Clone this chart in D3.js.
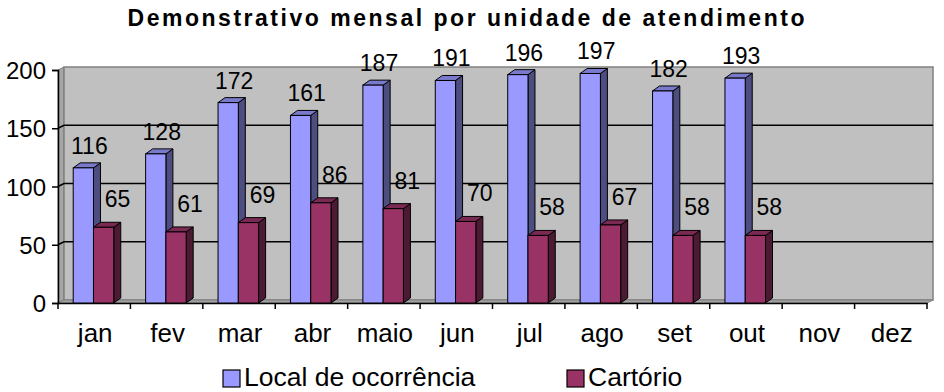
<!DOCTYPE html>
<html><head><meta charset="utf-8">
<script src="https://cdn.jsdelivr.net/npm/d3@7/dist/d3.min.js"></script>
<style>body{margin:0;background:#fff}svg{display:block;font-family:"Liberation Sans",Arial,sans-serif}</style>
</head><body><svg id="c" width="944" height="392"></svg>
<script>
const months = ["jan","fev","mar","abr","maio","jun","jul","ago","set","out","nov","dez"];
const localOcorrencia = [116,128,172,161,187,191,196,197,182,193,null,null];
const cartorio = [65,61,69,86,81,70,58,67,58,58,null,null];
const yTicks = [0,50,100,150,200];
const seriesNames = ["Local de ocorrência","Cartório"];

const svg = d3.select("#c");
const x0 = d3.scaleBand().domain(months).range([58,927]);
const y = d3.scaleLinear().domain([0,200]).range([303,70]);
const wdx=6, wdy=3; // wall depth
const bdx=7, bdy=5; // bar depth
const colors = [{front:"#9999FF",top:"#7A7ACC",side:"#4D4D80"},{front:"#993366",top:"#7A2952",side:"#4D1A33"}];
const FF = "'Liberation Sans', Arial, sans-serif";

// title
svg.append("text").attr("x",466).attr("y",26).attr("text-anchor","middle")
  .attr("font-size",23).attr("font-weight","bold").attr("font-family",FF)
  .attr("textLength",677).attr("lengthAdjust","spacing")
  .text("Demonstrativo mensal por unidade de atendimento");

const xL=x0.range()[0], xR=x0.range()[1];
// side wall
svg.append("path").attr("d",`M${xL},${y(200)}L${xL+wdx},${y(200)-wdy}L${xL+wdx},${y(0)-wdy}L${xL},${y(0)}Z`)
  .attr("fill","#A6A6A6").attr("stroke","#808080");
// back wall
svg.append("rect").attr("x",xL+wdx).attr("y",y(200)-wdy).attr("width",xR-xL).attr("height",y(0)-y(200))
  .attr("fill","#C0C0C0").attr("stroke","#808080").attr("stroke-width",1.5);
// floor
svg.append("path").attr("d",`M${xL},${y(0)}L${xL+wdx},${y(0)-wdy}L${xR+wdx},${y(0)-wdy}L${xR},${y(0)}Z`)
  .attr("fill","#A0A0A0").attr("stroke","#808080");
// gridlines
yTicks.filter(t=>t>0&&t<200).forEach(t=>{
  svg.append("path").attr("d",`M${xL},${y(t)}L${xL+wdx},${y(t)-wdy}L${xR+wdx},${y(t)-wdy}`)
    .attr("fill","none").attr("stroke","#000").attr("stroke-width",1.5);
});

// y axis
const yAxis = svg.append("g").attr("transform",`translate(${xL},0)`)
  .call(d3.axisLeft(y).tickValues(yTicks).tickSize(6).tickPadding(6));
yAxis.select(".domain").attr("stroke","#000").attr("stroke-width",1.5);
yAxis.selectAll(".tick line").attr("stroke","#000").attr("stroke-width",1.5);
yAxis.selectAll("text").attr("font-size",24).attr("font-family",FF).attr("fill","#000").attr("dy","0.36em");

// x axis
const xAxis = svg.append("g").attr("transform",`translate(0,${y(0)})`)
  .call(d3.axisBottom(x0).tickSize(0).tickPadding(0));
xAxis.select(".domain").attr("stroke","#000").attr("stroke-width",1.5);
xAxis.selectAll("text").attr("font-size",26).attr("font-family",FF).attr("fill","#000").attr("y",21).attr("dy","0.71em").attr("dx",1);
// boundary ticks
const bounds = months.map(m=>x0(m)).concat([xR]);
svg.append("g").selectAll("line").data(bounds).join("line")
  .attr("x1",d=>d).attr("x2",d=>d).attr("y1",y(0)).attr("y2",y(0)+6)
  .attr("stroke","#000").attr("stroke-width",1.5);

// bars
const bw = x0.bandwidth()*0.28, off = x0.bandwidth()*0.21;
const data = months.map((m,i)=>({m,vals:[localOcorrencia[i],cartorio[i]]}));
const g = svg.append("g");
data.forEach(d=>{
  d.vals.forEach((v,s)=>{
    if(v==null) return;
    const x = x0(d.m)+off+s*bw, yt=y(v), yb=y(0), c=colors[s];
    g.append("path").attr("d",`M${x+bw},${yt}L${x+bw+bdx},${yt-bdy}L${x+bw+bdx},${yb-bdy}L${x+bw},${yb}Z`)
      .attr("fill",c.side).attr("stroke","#000").attr("stroke-width",1).attr("stroke-linejoin","round");
    g.append("path").attr("d",`M${x},${yt}L${x+bdx},${yt-bdy}L${x+bw+bdx},${yt-bdy}L${x+bw},${yt}Z`)
      .attr("fill",c.top).attr("stroke","#000").attr("stroke-width",1).attr("stroke-linejoin","round");
    g.append("rect").attr("x",x).attr("y",yt).attr("width",bw).attr("height",yb-yt)
      .attr("fill",c.front).attr("stroke","#000").attr("stroke-width",1);
  });
});
// labels
data.forEach(d=>{
  d.vals.forEach((v,s)=>{
    if(v==null) return;
    const x = x0(d.m)+off+s*bw+bw/2 + (s===0?6:14);
    svg.append("text").attr("x",x).attr("y",y(v)-(s===0?14:20))
      .attr("text-anchor","middle").attr("font-size",23).attr("font-family",FF).attr("fill","#000").text(v);
  });
});

// legend
const leg = [{x:223,name:seriesNames[0],c:colors[0].front},{x:567,name:seriesNames[1],c:colors[1].front}];
leg.forEach(l=>{
  svg.append("rect").attr("x",l.x).attr("y",370).attr("width",17).attr("height",17).attr("fill",l.c).attr("stroke","#000").attr("stroke-width",1.2);
  svg.append("text").attr("x",l.x+21).attr("y",386).attr("font-size",26.5).attr("font-family",FF).attr("fill","#000").text(l.name);
});
</script></body></html>
